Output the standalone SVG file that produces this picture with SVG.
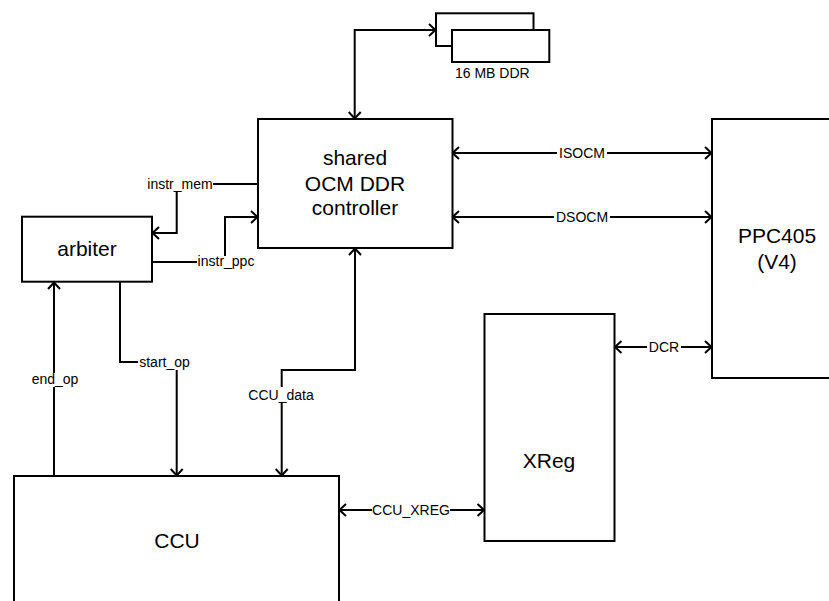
<svg xmlns="http://www.w3.org/2000/svg" width="829" height="601" viewBox="0 0 829 601">
<defs>
<style>
.box{fill:#fff;stroke:#000;stroke-width:2}
.big{font-family:"Liberation Sans",Arial,sans-serif;font-size:21px;fill:#000;text-anchor:middle}
.lbl{font-family:"Liberation Sans",Arial,sans-serif;font-size:14px;fill:#000;text-anchor:middle}
.wire{fill:none;stroke:#000;stroke-width:2}
.bg{fill:#fff;stroke:none}
</style>
<marker id="ah" viewBox="0 0 10 14" refX="9.5" refY="7" markerWidth="10" markerHeight="14" markerUnits="userSpaceOnUse" orient="auto-start-reverse">
<path d="M2.5,1 L9,7 L2.5,13" fill="none" stroke="#000" stroke-width="2"/>
</marker>
</defs>
<rect width="829" height="601" fill="#fff"/>
<g id="connectors">
<path class="wire" d="M436,30 H354.7 V119" marker-start="url(#ah)" marker-end="url(#ah)"/>
<path class="wire" d="M452,153 H712" marker-start="url(#ah)" marker-end="url(#ah)"/>
<path class="wire" d="M452,217 H712" marker-start="url(#ah)" marker-end="url(#ah)"/>
<path class="wire" d="M258,184 H176.7 V233 H152" marker-end="url(#ah)"/>
<path class="wire" d="M152,262 H225 V217 H258" marker-end="url(#ah)"/>
<path class="wire" d="M120,282 V362 H176.7 V476" marker-end="url(#ah)"/>
<path class="wire" d="M54,476 V282" marker-end="url(#ah)"/>
<path class="wire" d="M355,248 V370 H281.7 V476" marker-start="url(#ah)" marker-end="url(#ah)"/>
<path class="wire" d="M339,510 H484.5" marker-start="url(#ah)" marker-end="url(#ah)"/>
<path class="wire" d="M614.5,347 H712" marker-start="url(#ah)" marker-end="url(#ah)"/>
<rect class="bg" x="147" y="178" width="66" height="13"/>
<text class="lbl" x="180" y="188.5">instr_mem</text>
<rect class="bg" x="197" y="256" width="58" height="13"/>
<text class="lbl" x="226" y="266">instr_ppc</text>
<rect class="bg" x="138" y="356" width="54" height="14"/>
<text class="lbl" x="164.5" y="367">start_op</text>
<rect class="bg" x="32" y="373" width="46" height="14"/>
<text class="lbl" x="55" y="384">end_op</text>
<rect class="bg" x="248" y="387" width="66" height="15"/>
<text class="lbl" x="281" y="400">CCU_data</text>
<rect class="bg" x="557" y="146" width="50" height="14"/>
<text class="lbl" x="582" y="157.5">ISOCM</text>
<rect class="bg" x="554" y="210" width="56" height="14"/>
<text class="lbl" x="582" y="221.5">DSOCM</text>
<rect class="bg" x="647" y="340" width="34" height="13"/>
<text class="lbl" x="664" y="351.5">DCR</text>
<rect class="bg" x="372" y="503" width="78" height="14"/>
<text class="lbl" x="411" y="515">CCU_XREG</text>
</g>
<g id="ddr">
<rect class="box" x="436" y="13.3" width="97.5" height="32.7"/>
<rect class="box" x="452" y="30" width="97.3" height="32"/>
<text class="lbl" x="455" y="78.3" style="text-anchor:start">16 MB DDR</text>
</g>
<g id="controller">
<rect class="box" x="258" y="119" width="194.5" height="129"/>
<text class="big" x="355" y="165">shared</text>
<text class="big" x="355" y="190.5">OCM DDR</text>
<text class="big" x="355" y="215">controller</text>
</g>
<g id="arbiter">
<rect class="box" x="22" y="216.7" width="130" height="65"/>
<text class="big" x="87" y="256">arbiter</text>
</g>
<g id="ccu">
<rect class="box" x="14" y="476" width="325" height="140"/>
<text class="big" x="177" y="548">CCU</text>
</g>
<g id="xreg">
<rect class="box" x="484.5" y="314" width="130" height="227"/>
<text class="big" x="549" y="468">XReg</text>
</g>
<g id="ppc405">
<rect class="box" x="712" y="119" width="140" height="259"/>
<text class="big" x="777" y="243">PPC405</text>
<text class="big" x="777" y="269">(V4)</text>
</g>
</svg>
